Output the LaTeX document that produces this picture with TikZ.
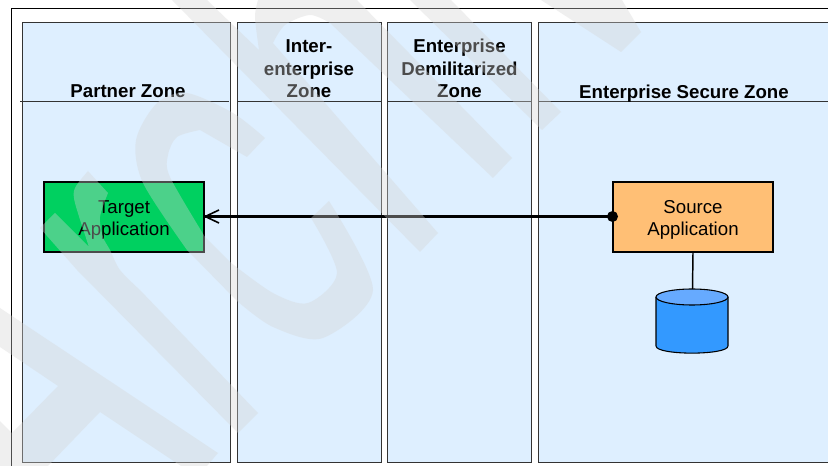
\documentclass[tikz,border=0pt]{standalone}
\usepackage{fontspec}
\setmainfont{Liberation Sans}
\definecolor{zonefill}{HTML}{DEEFFF}
\definecolor{tgtfill}{HTML}{00D060}
\definecolor{srcfill}{HTML}{FFBF75}
\definecolor{dbbody}{HTML}{3399FF}
\definecolor{dbtopc}{HTML}{66AAFF}
\definecolor{wmark}{gray}{0.835}
\definecolor{edgec}{gray}{0.2}
\tikzset{
  zone/.style={draw=edgec,line width=0.85pt,fill=zonefill,inner sep=0pt,anchor=north west},
  headtxt/.style={font=\fontsize{14}{16.9}\selectfont\bfseries,align=center,anchor=south,inner sep=0pt},
  appbox/.style={draw=black,line width=1.4pt,inner sep=0pt,minimum width=120.5pt,minimum height=52.5pt,
    font=\fontsize{14}{16.6}\selectfont,align=center},
  headrule/.style={draw=edgec,line width=0.75pt},
  flow/.style={draw=black,line width=2pt},
  wm/.style={fill=wmark,fill opacity=0.36,draw=none}
}
\begin{document}
\begin{tikzpicture}[x=0.75pt,y=-0.75pt]
\clip (0,0) rectangle (828,466);
\fill[white] (0,0) rectangle (828,466);
% outer frame
\coordinate (fa) at (11.5,466);
\coordinate (fb) at (11.5,8.5);
\coordinate (fc) at (828,8.5);
\draw[black,line width=0.8pt] (fa) -- (fb) -- (fc);
% zones
\node[zone,minimum width=156pt,minimum height=330pt] (z1) at (22,22) {};
\node[zone,minimum width=108.4pt,minimum height=330pt] (z2) at (236.7,22) {};
\node[zone,minimum width=108.2pt,minimum height=330pt] (z3) at (387,22) {};
\node[zone,minimum width=225pt,minimum height=330pt] (z4) at (537.5,22) {};
% header rules
\coordinate (r1a) at (20,102);   \coordinate (r1b) at (229,102);
\coordinate (r2a) at (237,102);  \coordinate (r2b) at (381.5,102);
\coordinate (r3a) at (387.5,102);\coordinate (r3b) at (532,102);
\coordinate (r4a) at (538,102);  \coordinate (r4b) at (828,102);
\draw[headrule] (r1a) -- (r1b);
\draw[headrule] (r2a) -- (r2b);
\draw[headrule] (r3a) -- (r3b);
\draw[headrule] (r4a) -- (r4b);
% headers
\node[headtxt] (h1) at (128,98) {Partner Zone};
\node[headtxt] (h2) at (309,98) {Inter-\\enterprise\\Zone};
\node[headtxt] (h3) at (459.5,98) {Enterprise\\Demilitarized\\Zone};
\node[headtxt] (h4) at (684,103) {Enterprise Secure Zone};
% applications
\node[appbox,fill=tgtfill] (target) at (124,217) {\rule{0pt}{14.6pt}Target\\Application};
\node[appbox,fill=srcfill] (source) at (693,217) {\rule{0pt}{14.6pt}Source\\Application};
% database
\coordinate (dbtop) at (692.5,289);
\fill[dbbody] (656,297) -- (656,346) .. controls (656,355.5) and (728,355.5) .. (728,346) -- (728,297) -- cycle;
\draw[black,line width=0.8pt] (656,297) -- (656,346) .. controls (656,355.5) and (728,355.5) .. (728,346) -- (728,297);
\draw[black,line width=0.8pt,fill=dbtopc] (692,297) ellipse[x radius=36,y radius=8];
% connectors
\draw[black,line width=1.1pt] (source.south) -- (dbtop);
\coordinate (dotc) at (612.5,216.5);
\coordinate (tipc) at (target.east);
\coordinate (w1) at (219,210);
\coordinate (w2) at (219,223);
\draw[flow] (dotc) -- (tipc |- dotc);
\draw[black,line width=1.2pt] (w1) -- (tipc |- dotc) -- (w2);
\fill[black] (dotc) circle[radius=5.5];
% watermark
\fill[wm] (172,0) -- (420,252) -- (438,233) -- (273,43)
  -- plot[smooth] coordinates {(273,43) (285,25) (310,15) (330,23)} -- (493,178) -- (512,158) -- (357,0) -- (258,0)
  -- plot[smooth] coordinates {(258,0) (255,17) (259,50)} -- (207,0) -- cycle;
\fill[wm] (410,0) -- (451,0) -- (561,112) -- (542,130) -- cycle;
\fill[wm] (541,0) -- (621,52) -- (641,32) -- (622,0) -- cycle;
\fill[wm] (265,138) -- plot[smooth] coordinates {(265,138) (233,113) (187,93) (157,103) (136,140) (143,183) (187,250)}
  -- (237,301) -- plot[smooth] coordinates {(237,301) (273,327) (323,338) (373,290) (329,201)}
  -- (311,218) -- plot[smooth] coordinates {(311,218) (337,273) (308,303) (273,293) (230,262)}
  -- (205,237) -- plot[smooth] coordinates {(205,237) (170,177) (168,155) (177,137) (200,130)}
  -- (247,157) -- cycle;
\fill[wm] (88,171) -- (108,193) -- plot[smooth] coordinates {(108,193) (100,217) (103,237) (110,250) (120,270) (140,290)}
  -- (258,413) -- (238,433) -- (77,270) -- (40,228) -- (55,213) -- (89,247)
  -- plot[smooth] coordinates {(89,247) (75,203) (75,188) (88,171)} -- cycle;
\fill[wm] (0,308) -- (218,453) -- (207,466) -- (181,466) -- (100,412) -- (48,466) -- (0,466) -- (0,421) -- (12,433) -- (58,386) -- (0,347) -- cycle;
\end{tikzpicture}
\end{document}
